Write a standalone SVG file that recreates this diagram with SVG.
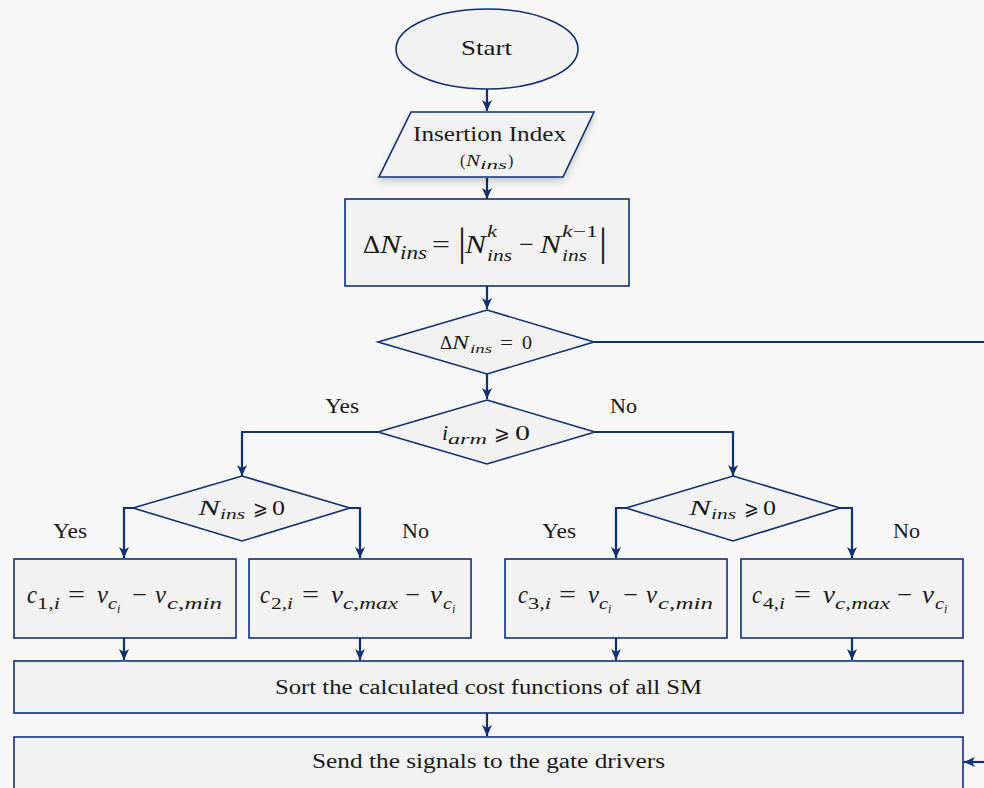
<svg xmlns="http://www.w3.org/2000/svg" width="984" height="788" viewBox="0 0 984 788">
<style>
.shape{fill:#f2f2f2;stroke:#10306f;stroke-width:1.6}
.conn{fill:none;stroke:#10306f;stroke-width:2.2}
text{font-family:"Liberation Serif","DejaVu Serif",serif;fill:#1a1a1a}
.m{font-style:italic}
.sym{font-family:"DejaVu Serif","DejaVu Sans",serif}
</style>
<defs>
<marker id="ah" markerUnits="userSpaceOnUse" markerWidth="11" markerHeight="10" viewBox="0 0 11 10" refX="11" refY="5" orient="auto">
<path d="M0,0 L11,5 L0,10 L3,5 z" fill="#10306f"/>
</marker>
<filter id="sh" x="-10%" y="-20%" width="120%" height="160%">
<feDropShadow dx="0" dy="4" stdDeviation="3" flood-color="#000" flood-opacity="0.18"/>
</filter>
</defs>
<rect width="984" height="788" fill="#f7f7f7"/>

<g id="connectors">
<path class="conn" d="M487,89 V111" marker-end="url(#ah)"/>
<path class="conn" d="M487,178 V199" marker-end="url(#ah)"/>
<path class="conn" d="M487,286 V309" marker-end="url(#ah)"/>
<path class="conn" d="M487,374 V399" marker-end="url(#ah)"/>
<path class="conn" d="M594,342 H984"/>
<path class="conn" d="M378,432 H242 V476" marker-end="url(#ah)"/>
<path class="conn" d="M595,432 H733 V476" marker-end="url(#ah)"/>
<path class="conn" d="M133,508 H124 V558" marker-end="url(#ah)"/>
<path class="conn" d="M350,508 H360 V558" marker-end="url(#ah)"/>
<path class="conn" d="M626,508 H616 V558" marker-end="url(#ah)"/>
<path class="conn" d="M840,508 H852 V558" marker-end="url(#ah)"/>
<path class="conn" d="M124,638 V660" marker-end="url(#ah)"/>
<path class="conn" d="M360,638 V660" marker-end="url(#ah)"/>
<path class="conn" d="M616,638 V660" marker-end="url(#ah)"/>
<path class="conn" d="M852,638 V660" marker-end="url(#ah)"/>
<path class="conn" d="M487,713 V736" marker-end="url(#ah)"/>
<path class="conn" d="M984,762 H964" marker-end="url(#ah)"/>
<text x="325" y="413" font-size="20" textLength="34" lengthAdjust="spacingAndGlyphs">Yes</text>
<text x="610" y="413" font-size="20" textLength="27" lengthAdjust="spacingAndGlyphs">No</text>
<text x="53" y="538" font-size="20" textLength="34" lengthAdjust="spacingAndGlyphs">Yes</text>
<text x="402" y="538" font-size="20" textLength="27" lengthAdjust="spacingAndGlyphs">No</text>
<text x="542" y="538" font-size="20" textLength="34" lengthAdjust="spacingAndGlyphs">Yes</text>
<text x="893" y="538" font-size="20" textLength="27" lengthAdjust="spacingAndGlyphs">No</text>
</g>

<g id="start">
<ellipse class="shape" cx="487" cy="49" rx="91" ry="40"/>
<text x="461" y="55" font-size="21" textLength="51" lengthAdjust="spacingAndGlyphs">Start</text>
</g>

<g id="insertion-index">
<polygon class="shape" points="411,112 594,112 563,177 379,177" filter="url(#sh)"/>
<text x="413" y="141" font-size="20" textLength="153" lengthAdjust="spacingAndGlyphs">Insertion Index</text>
<text x="460" y="166" font-size="16">(</text>
<text class="m" x="466" y="166" font-size="16" textLength="14" lengthAdjust="spacingAndGlyphs">N</text>
<text class="m" x="480" y="169" font-size="12" textLength="27" lengthAdjust="spacingAndGlyphs">ins</text>
<text x="508" y="166" font-size="16">)</text>
</g>

<g id="delta-calc">
<rect class="shape" x="345" y="199" width="284" height="87"/>
<text x="363" y="253" font-size="26" textLength="17" lengthAdjust="spacingAndGlyphs">Δ</text>
<text class="m" x="380" y="253" font-size="26" textLength="21" lengthAdjust="spacingAndGlyphs">N</text>
<text class="m" x="400" y="259" font-size="18" textLength="27" lengthAdjust="spacingAndGlyphs">ins</text>
<text x="432" y="253" font-size="26" textLength="18" lengthAdjust="spacingAndGlyphs">=</text>
<text x="458" y="255" font-size="40">|</text>
<text class="m" x="465" y="253" font-size="26" textLength="21" lengthAdjust="spacingAndGlyphs">N</text>
<text class="m" x="487" y="237" font-size="17" textLength="10" lengthAdjust="spacingAndGlyphs">k</text>
<text class="m" x="487" y="261" font-size="17" textLength="25" lengthAdjust="spacingAndGlyphs">ins</text>
<text x="519" y="253" font-size="26" textLength="15" lengthAdjust="spacingAndGlyphs">−</text>
<text class="m" x="540" y="253" font-size="26" textLength="21" lengthAdjust="spacingAndGlyphs">N</text>
<text x="562" y="237" font-size="17" textLength="36" lengthAdjust="spacingAndGlyphs"><tspan class="m">k</tspan>−1</text>
<text class="m" x="562" y="261" font-size="17" textLength="25" lengthAdjust="spacingAndGlyphs">ins</text>
<text x="599" y="255" font-size="40">|</text>
</g>

<g id="delta-zero">
<polygon class="shape" points="487,310 594,342 487,374 378,342"/>
<text x="440" y="349" font-size="18" textLength="12" lengthAdjust="spacingAndGlyphs">Δ</text>
<text class="m" x="452" y="349" font-size="18" textLength="17" lengthAdjust="spacingAndGlyphs">N</text>
<text class="m" x="470" y="353" font-size="13" textLength="22" lengthAdjust="spacingAndGlyphs">ins</text>
<text x="500" y="349" font-size="18" textLength="13" lengthAdjust="spacingAndGlyphs">=</text>
<text x="522" y="349" font-size="18" textLength="10" lengthAdjust="spacingAndGlyphs">0</text>
</g>

<g id="iarm">
<polygon class="shape" points="487,400 595,432 487,464 378,432"/>
<text class="m" x="442" y="440" font-size="22">i</text>
<text class="m" x="448" y="444" font-size="15" textLength="39" lengthAdjust="spacingAndGlyphs">arm</text>
<text class="sym" x="494" y="440" font-size="20" textLength="16" lengthAdjust="spacingAndGlyphs">⩾</text>
<text x="515" y="440" font-size="22" textLength="15" lengthAdjust="spacingAndGlyphs">0</text>
</g>

<g id="nins-left">
<polygon class="shape" points="242,476 350,508 242,541 133,508"/>
<text class="m" x="198" y="515" font-size="22" textLength="22" lengthAdjust="spacingAndGlyphs">N</text>
<text class="m" x="220" y="519" font-size="15" textLength="25" lengthAdjust="spacingAndGlyphs">ins</text>
<text class="sym" x="253" y="515" font-size="20" textLength="15" lengthAdjust="spacingAndGlyphs">⩾</text>
<text x="272" y="515" font-size="22" textLength="13" lengthAdjust="spacingAndGlyphs">0</text>
</g>

<g id="nins-right">
<polygon class="shape" points="733,476 840,508 733,541 626,508"/>
<text class="m" x="689" y="515" font-size="22" textLength="22" lengthAdjust="spacingAndGlyphs">N</text>
<text class="m" x="711" y="519" font-size="15" textLength="25" lengthAdjust="spacingAndGlyphs">ins</text>
<text class="sym" x="744" y="515" font-size="20" textLength="15" lengthAdjust="spacingAndGlyphs">⩾</text>
<text x="763" y="515" font-size="22" textLength="13" lengthAdjust="spacingAndGlyphs">0</text>
</g>

<g id="c1">
<rect class="shape" x="14" y="559" width="222" height="79"/>
<text class="m" x="27" y="603" font-size="25" textLength="10" lengthAdjust="spacingAndGlyphs">c</text>
<text x="37" y="609" font-size="17" textLength="23" lengthAdjust="spacingAndGlyphs">1,<tspan class="m">i</tspan></text>
<text x="68" y="603" font-size="25" textLength="17" lengthAdjust="spacingAndGlyphs">=</text>
<text class="m" x="97" y="603" font-size="25" textLength="11" lengthAdjust="spacingAndGlyphs">v</text>
<text class="m" x="108" y="609" font-size="17" textLength="9" lengthAdjust="spacingAndGlyphs">c</text>
<text class="m" x="117" y="613" font-size="12">i</text>
<text x="132" y="603" font-size="25" textLength="15" lengthAdjust="spacingAndGlyphs">−</text>
<text class="m" x="155" y="603" font-size="25" textLength="11" lengthAdjust="spacingAndGlyphs">v</text>
<text class="m" x="167" y="609" font-size="17" textLength="55" lengthAdjust="spacingAndGlyphs">c<tspan font-style="normal">,</tspan>min</text>
</g>

<g id="c2">
<rect class="shape" x="249" y="559" width="222" height="79"/>
<text class="m" x="260" y="603" font-size="25" textLength="10" lengthAdjust="spacingAndGlyphs">c</text>
<text x="271" y="609" font-size="17" textLength="22" lengthAdjust="spacingAndGlyphs">2,<tspan class="m">i</tspan></text>
<text x="302" y="603" font-size="25" textLength="17" lengthAdjust="spacingAndGlyphs">=</text>
<text class="m" x="331" y="603" font-size="25" textLength="12" lengthAdjust="spacingAndGlyphs">v</text>
<text class="m" x="343" y="609" font-size="17" textLength="55" lengthAdjust="spacingAndGlyphs">c<tspan font-style="normal">,</tspan>max</text>
<text x="405" y="603" font-size="25" textLength="15" lengthAdjust="spacingAndGlyphs">−</text>
<text class="m" x="430" y="603" font-size="25" textLength="12" lengthAdjust="spacingAndGlyphs">v</text>
<text class="m" x="443" y="609" font-size="17" textLength="9" lengthAdjust="spacingAndGlyphs">c</text>
<text class="m" x="452" y="613" font-size="12">i</text>
</g>

<g id="c3">
<rect class="shape" x="505" y="559" width="222" height="79"/>
<text class="m" x="518" y="603" font-size="25" textLength="10" lengthAdjust="spacingAndGlyphs">c</text>
<text x="528" y="609" font-size="17" textLength="23" lengthAdjust="spacingAndGlyphs">3,<tspan class="m">i</tspan></text>
<text x="559" y="603" font-size="25" textLength="17" lengthAdjust="spacingAndGlyphs">=</text>
<text class="m" x="588" y="603" font-size="25" textLength="11" lengthAdjust="spacingAndGlyphs">v</text>
<text class="m" x="599" y="609" font-size="17" textLength="9" lengthAdjust="spacingAndGlyphs">c</text>
<text class="m" x="608" y="613" font-size="12">i</text>
<text x="623" y="603" font-size="25" textLength="15" lengthAdjust="spacingAndGlyphs">−</text>
<text class="m" x="646" y="603" font-size="25" textLength="11" lengthAdjust="spacingAndGlyphs">v</text>
<text class="m" x="658" y="609" font-size="17" textLength="55" lengthAdjust="spacingAndGlyphs">c<tspan font-style="normal">,</tspan>min</text>
</g>

<g id="c4">
<rect class="shape" x="741" y="559" width="222" height="79"/>
<text class="m" x="752" y="603" font-size="25" textLength="10" lengthAdjust="spacingAndGlyphs">c</text>
<text x="763" y="609" font-size="17" textLength="22" lengthAdjust="spacingAndGlyphs">4,<tspan class="m">i</tspan></text>
<text x="794" y="603" font-size="25" textLength="17" lengthAdjust="spacingAndGlyphs">=</text>
<text class="m" x="823" y="603" font-size="25" textLength="12" lengthAdjust="spacingAndGlyphs">v</text>
<text class="m" x="835" y="609" font-size="17" textLength="55" lengthAdjust="spacingAndGlyphs">c<tspan font-style="normal">,</tspan>max</text>
<text x="897" y="603" font-size="25" textLength="15" lengthAdjust="spacingAndGlyphs">−</text>
<text class="m" x="922" y="603" font-size="25" textLength="12" lengthAdjust="spacingAndGlyphs">v</text>
<text class="m" x="935" y="609" font-size="17" textLength="9" lengthAdjust="spacingAndGlyphs">c</text>
<text class="m" x="944" y="613" font-size="12">i</text>
</g>

<g id="sort">
<rect class="shape" x="14" y="661" width="949" height="52"/>
<text x="275" y="694" font-size="20" textLength="427" lengthAdjust="spacingAndGlyphs">Sort the calculated cost functions of all SM</text>
</g>

<g id="send">
<rect class="shape" x="14" y="737" width="949" height="60"/>
<text x="312" y="768" font-size="20" textLength="353" lengthAdjust="spacingAndGlyphs">Send the signals to the gate drivers</text>
</g>
</svg>
